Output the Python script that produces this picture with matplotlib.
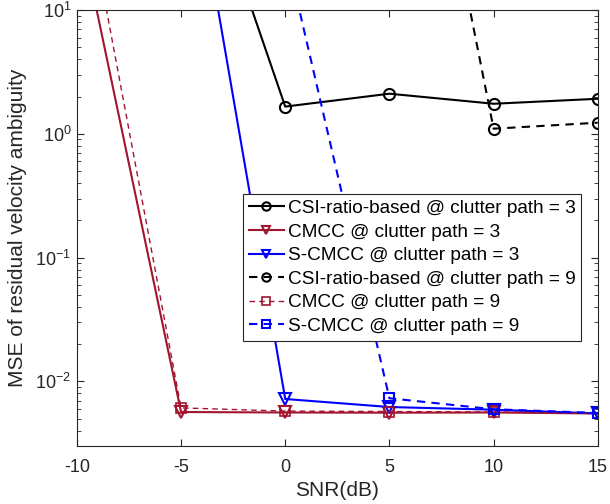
import matplotlib.pyplot as plt

# SNR points (dB)
snr = [-10, -5, 0, 5, 10, 15]

# MSE values (values above 10 are off-chart)
csi_3 = [1000, 470, 1.66, 2.11, 1.75, 1.92]
cmcc_3 = [58, 5.65e-3, 5.6e-3, 5.58e-3, 5.6e-3, 5.5e-3]
scmcc_3 = [600, 550, 7.2e-3, 6.2e-3, 5.9e-3, 5.5e-3]
csi_9 = [2e4, 2e4, 2e4, 1.86e4, 1.1, 1.23]
cmcc_9 = [190, 6.1e-3, 5.75e-3, 5.7e-3, 5.65e-3, 5.5e-3]
scmcc_9 = [40, 35, 31, 7.3e-3, 5.95e-3, 5.55e-3]

labels = ['CSI-ratio-based @ clutter path = 3',
          'CMCC @ clutter path = 3',
          'S-CMCC @ clutter path = 3',
          'CSI-ratio-based @ clutter path = 9',
          'CMCC @ clutter path = 9',
          'S-CMCC @ clutter path = 9']

red = '#A2142F'
blue = '#0000FF'

plt.rcParams['font.family'] = ['Liberation Sans', 'DejaVu Sans']
plt.rcParams['axes.unicode_minus'] = False

fig = plt.figure(figsize=(6.1, 5.04), dpi=100)
ax = fig.add_axes([0.126, 0.115, 0.854, 0.865])

lw = 1.5
ms = 8
ax.plot(snr, csi_3, color='black', linestyle='-', marker='o', markersize=ms, markerfacecolor='none', markeredgewidth=1.5, linewidth=lw, label=labels[0])
ax.plot(snr, cmcc_3, color=red, linestyle='-', marker='v', markersize=ms, markerfacecolor='none', markeredgewidth=1.5, linewidth=lw, label=labels[1])
ax.plot(snr, scmcc_3, color=blue, linestyle='-', marker='v', markersize=ms, markerfacecolor='none', markeredgewidth=1.5, linewidth=lw, label=labels[2])
ax.plot(snr, csi_9, color='black', linestyle=(0, (4, 3)), marker='o', markersize=ms, markerfacecolor='none', markeredgewidth=1.5, linewidth=lw, label=labels[3])
ax.plot(snr, cmcc_9, color=red, linestyle=(0, (4, 3)), marker='s', markersize=ms - 1, markerfacecolor='none', markeredgewidth=1.2, linewidth=1.0, label=labels[4])
ax.plot(snr, scmcc_9, color=blue, linestyle=(0, (4, 3)), marker='s', markersize=ms - 1, markerfacecolor='none', markeredgewidth=1.5, linewidth=lw, label=labels[5])

ax.set_yscale('log')
ax.set_xlim(-10, 15)
ax.set_ylim(3e-3, 10)
ax.set_xticks([-10, -5, 0, 5, 10, 15])
ax.set_yticks([1e-2, 1e-1, 1e0, 1e1])
ax.tick_params(which='both', direction='in', top=True, right=True, colors='#262626', labelsize=13)
ax.tick_params(which='major', length=5)
ax.tick_params(which='minor', length=3)
ax.tick_params(axis='x', pad=9)
ax.tick_params(axis='y', pad=4)
for s in ax.spines.values():
    s.set_color('#262626')
    s.set_linewidth(0.8)

ax.set_xlabel('SNR(dB)', fontsize=15, color='#262626', labelpad=4)
ax.set_ylabel('MSE of residual velocity ambiguity', fontsize=15, color='#262626', labelpad=6)

leg = ax.legend(loc='upper left', bbox_to_anchor=(0.319, 0.578), fontsize=13.7, handlelength=1.85,
                handletextpad=0.2, labelspacing=0.33, borderpad=0.3, borderaxespad=0,
                fancybox=False, framealpha=1, edgecolor='#262626', markerscale=0.75)
leg.get_frame().set_linewidth(0.8)

fig.savefig('out.png', dpi=100)
